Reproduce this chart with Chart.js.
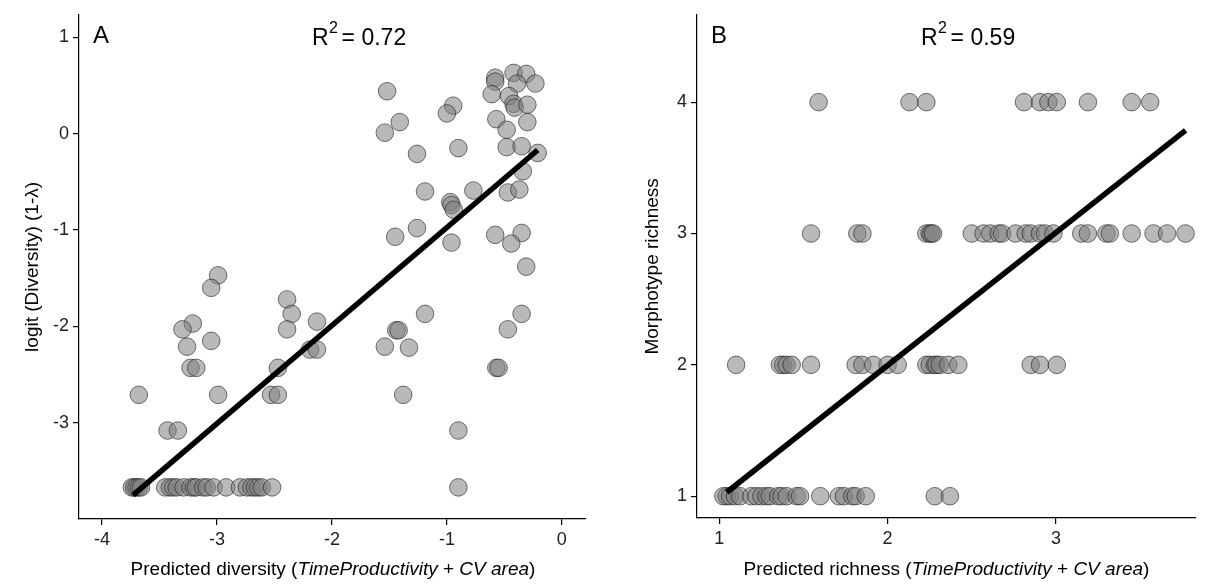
<!DOCTYPE html>
<html>
<head>
<meta charset="utf-8">
<script src="https://cdn.jsdelivr.net/npm/chart.js@4.4.1/dist/chart.umd.min.js"></script>
<style>
  html, body { margin: 0; padding: 0; background: #fff; }
  #wrap { position: relative; width: 1206px; height: 586px; }
  .panel { position: absolute; top: 0; height: 586px; }
  #panelA { left: 0; width: 620px; }
  #panelB { left: 620px; width: 586px; }
</style>
</head>
<body>
<div id="wrap">
  <div class="panel" id="panelA"><canvas id="chartA"></canvas></div>
  <div class="panel" id="panelB"><canvas id="chartB"></canvas></div>
</div>
<script>
// Panel A: predicted vs observed diversity
const divX = [
  -1.52, -1.41, -1.54, -1.26, -0.945, -1.00, -0.90,
  -0.58, -0.58, -0.42, -0.31, -0.39, -0.23, -0.61, -0.46, -0.42, -0.41, -0.30,
  -0.57, -0.48, -0.30, -0.48, -0.35, -0.21, -0.34, -0.47, -0.37,
  -1.19, -0.77, -0.97, -0.96, -0.94, -1.26, -1.45, -0.96, -0.58, -0.35, -0.44,
  -0.31, -1.19, -0.35, -0.47, -1.44, -1.42, -1.54, -1.33, -0.57, -0.55, -1.38, -0.90, -0.90,
  -2.99, -3.05, -2.39, -2.35, -2.39, -2.13, -3.21, -3.30, -3.05, -3.26, -2.19, -2.13,
  -3.23, -3.18, -2.47, -3.68, -2.99, -2.53, -2.47, -3.43, -3.34,
  -3.74, -3.72, -3.70, -3.68, -3.66, -3.45, -3.41, -3.38, -3.35, -3.29, -3.23, -3.20,
  -3.18, -3.12, -3.09, -3.03, -2.92, -2.80, -2.74, -2.70, -2.67, -2.64, -2.61, -2.52
];
const divY = [
  0.44, 0.12, 0.01, -0.21, 0.29, 0.21, -0.15,
  0.58, 0.54, 0.63, 0.62, 0.52, 0.52, 0.41, 0.39, 0.31, 0.27, 0.30,
  0.15, 0.04, 0.12, -0.14, -0.13, -0.20, -0.39, -0.61, -0.58,
  -0.60, -0.59, -0.71, -0.74, -0.79, -0.98, -1.07, -1.13, -1.05, -1.03, -1.14,
  -1.38, -1.87, -1.87, -2.03, -2.04, -2.04, -2.21, -2.22, -2.43, -2.43, -2.71, -3.08, -3.67,
  -1.47, -1.60, -1.72, -1.87, -2.03, -1.95, -1.97, -2.03, -2.15, -2.21, -2.24, -2.24,
  -2.43, -2.43, -2.43, -2.71, -2.71, -2.71, -2.71, -3.08, -3.08,
  -3.67, -3.67, -3.67, -3.67, -3.67, -3.67, -3.67, -3.67, -3.67, -3.67, -3.67, -3.67,
  -3.67, -3.67, -3.67, -3.67, -3.67, -3.67, -3.67, -3.67, -3.67, -3.67, -3.67, -3.67
];
const fitA = [[-3.73, -3.75], [-0.21, -0.17]];
const ticksAx = [-4, -3, -2, -1, 0];
const ticksAy = [-3, -2, -1, 0, 1];

// Panel B: predicted richness, grouped by observed morphotype richness
const richLevels = [1, 2, 3, 4];
const predRich1 = [1.024, 1.044, 1.064, 1.093, 1.123, 1.19, 1.22, 1.25, 1.28, 1.30, 1.35, 1.37,
  1.40, 1.46, 1.48, 1.60, 1.71, 1.74, 1.79, 1.81, 1.87, 2.28, 2.37];
const predRich2 = [1.10, 1.36, 1.38, 1.40, 1.43, 1.545, 1.81, 1.85, 1.915, 2.00, 2.06, 2.23,
  2.25, 2.28, 2.29, 2.31, 2.36, 2.42, 2.85, 2.905, 3.005];
const predRich3 = [1.545, 1.82, 1.85, 2.23, 2.25, 2.26, 2.27, 2.50, 2.57, 2.61, 2.66, 2.68,
  2.76, 2.82, 2.85, 2.905, 2.935, 2.985, 3.15, 3.19, 3.30, 3.32, 3.45, 3.58, 3.66, 3.77];
const predRich4 = [1.59, 2.13, 2.23, 2.81, 2.905, 2.955, 3.005, 3.19, 3.45, 3.56];
const fitB = [[1.044, 1.03], [3.77, 3.785]];
const ticksBx = [1, 2, 3];
const ticksBy = [1, 2, 3, 4];

const FONT = '"Liberation Sans", Arial, Helvetica, sans-serif';
const pointFill = 'rgba(128,128,128,0.55)';
const pointEdge = 'rgba(30,30,30,0.6)';

function pts(xs, ys) {
  return xs.map((x, i) => ({ x: x, y: ys[i] }));
}

function scatterSet(data) {
  return {
    type: 'scatter', data: data, order: 1,
    pointRadius: 8.8, pointBorderWidth: 1,
    pointBackgroundColor: pointFill, pointBorderColor: pointEdge
  };
}

function fitSet(line) {
  return {
    type: 'line', order: 0, showLine: true,
    data: line.map(p => ({ x: p[0], y: p[1] })),
    borderColor: '#000', borderWidth: 5.5, borderCapStyle: 'butt',
    pointRadius: 0
  };
}

function axis(min, max, ticks, fit) {
  return {
    type: 'linear', min: min, max: max,
    afterBuildTicks: s => { s.ticks = ticks.map(v => ({ value: v })); },
    afterFit: fit,
    grid: { drawOnChartArea: false, drawTicks: true, tickLength: 6, color: '#000', lineWidth: 1.2 },
    border: { display: true, color: '#000', width: 1.2 },
    ticks: { color: '#222', padding: 4, font: { family: FONT, size: 18 } }
  };
}

// letters, R², axis titles (with italic parts) drawn on the canvas
const annotate = {
  id: 'annotate',
  afterDraw(chart, args, o) {
    const ctx = chart.ctx;
    ctx.save();
    ctx.fillStyle = '#000';
    ctx.textBaseline = 'alphabetic';
    ctx.textAlign = 'left';

    ctx.font = '24px ' + FONT;
    ctx.fillText(o.letter, o.letterX, 43);

    ctx.font = '23px ' + FONT;
    ctx.fillText('R', o.rX, 45);
    let w = ctx.measureText('R').width;
    ctx.font = '16px ' + FONT;
    ctx.fillText('2', o.rX + w + 0.5, 33);
    ctx.font = '23px ' + FONT;
    ctx.fillText('= ' + o.r2, o.rX + w + 13, 45);

    // x title
    const parts = o.xTitle;
    let total = 0;
    parts.forEach(p => {
      ctx.font = (p[1] ? 'italic ' : '') + '19px ' + FONT;
      total += ctx.measureText(p[0]).width;
    });
    let x = o.xTitleX - total / 2;
    parts.forEach(p => {
      ctx.font = (p[1] ? 'italic ' : '') + '19px ' + FONT;
      ctx.fillText(p[0], x, 575);
      x += ctx.measureText(p[0]).width;
    });

    // y title
    ctx.translate(o.yTitleX, (chart.chartArea.top + chart.chartArea.bottom) / 2);
    ctx.rotate(-Math.PI / 2);
    ctx.textAlign = 'center';
    ctx.font = '19px ' + FONT;
    ctx.fillText(o.yTitle, 0, 0);
    ctx.restore();
  }
};

const common = {
  responsive: true,
  maintainAspectRatio: false,
  animation: false,
  events: [],
  plugins: { legend: { display: false }, tooltip: { enabled: false } }
};

new Chart(document.getElementById('chartA'), {
  type: 'scatter',
  data: { datasets: [fitSet(fitA), scatterSet(pts(divX, divY))] },
  options: Object.assign({}, common, {
    layout: { padding: { top: 10, right: 34, left: 0, bottom: 0 } },
    scales: {
      x: axis(-4.2, 0.21, ticksAx, s => { s.height = 67; }),
      y: axis(-3.998, 1.233, ticksAy, s => { s.width = 79; })
    },
    plugins: Object.assign({}, common.plugins, {
      annotate: {
        letter: 'A', letterX: 93, rX: 312, r2: '0.72',
        xTitle: [['Predicted diversity (', false], ['TimeProductivity', true], [' + ', false], ['CV area', true], [')', false]],
        xTitleX: 333, yTitle: 'logit (Diversity) (1-λ)', yTitleX: 38
      }
    })
  }),
  plugins: [annotate]
});

const richData = []
  .concat(predRich1.map(x => ({ x: x, y: richLevels[0] })))
  .concat(predRich2.map(x => ({ x: x, y: richLevels[1] })))
  .concat(predRich3.map(x => ({ x: x, y: richLevels[2] })))
  .concat(predRich4.map(x => ({ x: x, y: richLevels[3] })));

new Chart(document.getElementById('chartB'), {
  type: 'scatter',
  data: { datasets: [fitSet(fitB), scatterSet(richData)] },
  options: Object.assign({}, common, {
    layout: { padding: { top: 10, right: 10, left: 0, bottom: 0 } },
    scales: {
      x: axis(0.8675, 3.832, ticksBx, s => { s.height = 68; }),
      y: axis(0.834, 4.665, ticksBy, s => { s.width = 77; })
    },
    plugins: Object.assign({}, common.plugins, {
      annotate: {
        letter: 'B', letterX: 91, rX: 301, r2: '0.59',
        xTitle: [['Predicted richness (', false], ['TimeProductivity', true], [' + ', false], ['CV area', true], [')', false]],
        xTitleX: 326.5, yTitle: 'Morphotype richness', yTitleX: 38
      }
    })
  }),
  plugins: [annotate]
});
</script>
</body>
</html>
